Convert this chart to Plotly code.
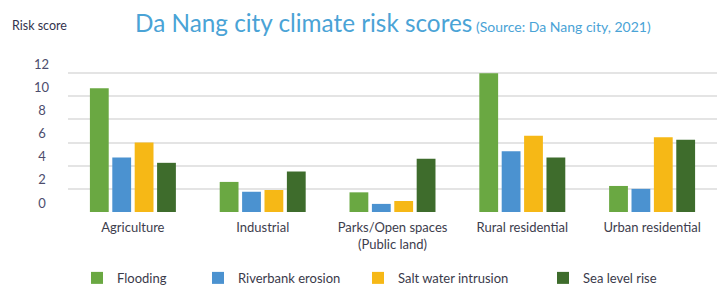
import plotly.graph_objects as go

categories = ["Agriculture", "Industrial", "Parks/Open spaces<br>(Public land)",
              "Rural residential", "Urban residential"]
series_names = ["Flooding", "Riverbank erosion", "Salt water intrusion", "Sea level rise"]
flooding = [10.7, 2.6, 1.7, 12.0, 2.25]
riverbank = [4.7, 1.75, 0.7, 5.25, 2.0]
salt = [6.0, 1.9, 0.95, 6.6, 6.45]
sea = [4.25, 3.5, 4.6, 4.7, 6.25]
colors = ["#6aa842", "#4b92d0", "#f6b816", "#3e6c2c"]
y_tickvals = [0, 2, 4, 6, 8, 10, 12, 14]
y_ticktext = ["0\u2005", "2\u2005", "4\u2005", "6\u2005", "8\u2005", "10", "12", ""]

FONT = "Lato, 'Open Sans', sans-serif"
series = [flooding, riverbank, salt, sea]
legend_names = ["legend", "legend2", "legend3", "legend4"]
legend_x = [0.0139, 0.2003, 0.4468, 0.7319]

fig = go.Figure()
for name, vals, col, lg in zip(series_names, series, colors, legend_names):
    fig.add_trace(go.Bar(x=categories, y=vals, name=name, marker_color=col,
                         marker_line_width=0, legend=lg))

layout_legends = {}
for lg, lx in zip(legend_names, legend_x):
    layout_legends[lg] = dict(orientation="h", x=lx, xanchor="left", y=-0.407,
                              yanchor="middle", bgcolor="rgba(0,0,0,0)",
                              borderwidth=0,
                              font=dict(family=FONT, size=13, color="#3a3a4a"))

fig.update_layout(
    template="none",
    width=717, height=286,
    margin=dict(l=68, r=0, t=50, b=74, pad=0, autoexpand=False),
    paper_bgcolor="white", plot_bgcolor="white",
    barmode="group", bargap=0.31, bargroupgap=0.16,
    font=dict(family=FONT, color="#3a3a4a"),
    showlegend=True,
    **layout_legends,
)
fig.update_xaxes(showgrid=False, showline=False, zeroline=False, ticks="",
                 automargin=False,
                 tickfont=dict(family=FONT, size=13, color="#3d3d4d"),
                 ticklabelstandoff=6, fixedrange=True)
fig.update_yaxes(range=[0, 14], tickvals=y_tickvals, ticktext=y_ticktext,
                 automargin=False,
                 showgrid=True, gridcolor="#e4e4e4", gridwidth=1.5,
                 zeroline=False, showline=False, ticks="",
                 ticklabelshift=-9, ticklabelstandoff=18,
                 tickfont=dict(family=FONT, size=13, color="#4d4d6d"),
                 fixedrange=True)

fig.add_annotation(xref="paper", yref="paper", x=0.1002, y=1.167,
                   xanchor="left", yanchor="middle", showarrow=False,
                   text="Da Nang city climate risk scores"
                        "<span style='font-size:14px'> (Source: Da Nang city, 2021)</span>",
                   font=dict(family=FONT, size=24.3, color="#4aa3d6"))
fig.add_annotation(xref="paper", yref="paper", x=-0.0893, y=1.154,
                   xanchor="left", yanchor="middle", showarrow=False,
                   text="Risk score",
                   font=dict(family=FONT, size=12.5, color="#33334d"))

fig.write_html("out.html", config={"displayModeBar": False},
               post_script="document.body.style.margin='0';document.body.style.padding='0';")
